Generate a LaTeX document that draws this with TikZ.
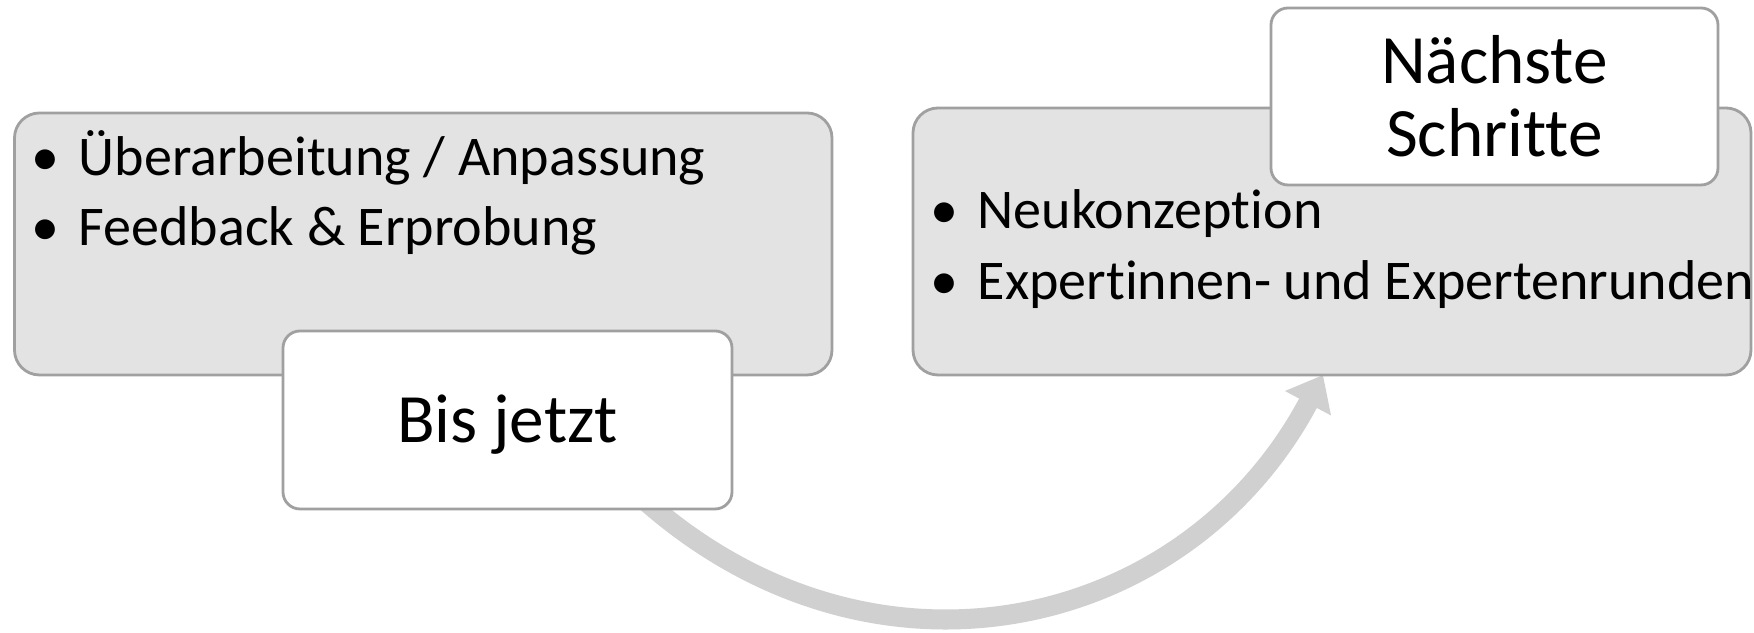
\documentclass[tikz,border=0pt]{standalone}
\usepackage{fontspec}
\setmainfont{Carlito}[Ligatures=NoCommon]
\usetikzlibrary{arrows.meta}
\definecolor{boxgray}{HTML}{E3E3E3}
\definecolor{linegray}{HTML}{A0A0A0}
\definecolor{loopgray}{HTML}{D0D0D0}
\begin{document}
\begin{tikzpicture}[
bigbox/.style={draw=linegray, line width=0.8pt, fill=boxgray, rounded corners=0.25cm, inner sep=0pt},
whitebox/.style={draw=linegray, line width=0.8pt, fill=white, rounded corners=0.17cm, inner sep=0pt, align=center, font=\fontsize{19.7}{20.8}\selectfont},
item/.style={anchor=base west, inner sep=0pt, font=\fontsize{15.95}{19}\selectfont},
loopline/.style={draw=loopgray, line width=5.7pt, -{Triangle[length=0.32cm,width=0.5cm]}}
]
\useasboundingbox (0,0) rectangle (17.54,6.33);
\coordinate (arcstart) at (6.41,1.36);
\coordinate (arcend) at (13.23,2.58);
\draw[loopline] (arcstart) .. controls (8.71,-0.71) and (11.86,0.00) .. (arcend);

\node (past) at (4.2325,3.89) [bigbox, minimum width=8.175cm, minimum height=2.62cm] {};
\node (plan) at (13.32,3.915) [bigbox, minimum width=8.38cm, minimum height=2.67cm] {};

\node (p1) at (0.31,4.57) [item] {\makebox[0.47cm][l]{•}Überarbeitung / Anpassung};
\node (p2) at (0.31,3.87) [item] {\makebox[0.47cm][l]{•}Feedback \& Erprobung};
\node (n1) at (9.30,4.04) [item] {\makebox[0.47cm][l]{•}Neukonzeption};
\node (n2) at (9.30,3.33) [item] {\makebox[0.47cm][l]{•}Expertinnen- und Expertenrunden};

\node (bis) at (5.075,2.13) [whitebox, minimum width=4.49cm, minimum height=1.78cm, text height=0.46cm, text depth=0cm] {Bis jetzt};
\node (next) at (14.945,5.365) [whitebox, minimum width=4.47cm, minimum height=1.77cm] {Nächste\\Schritte};
\end{tikzpicture}
\end{document}
